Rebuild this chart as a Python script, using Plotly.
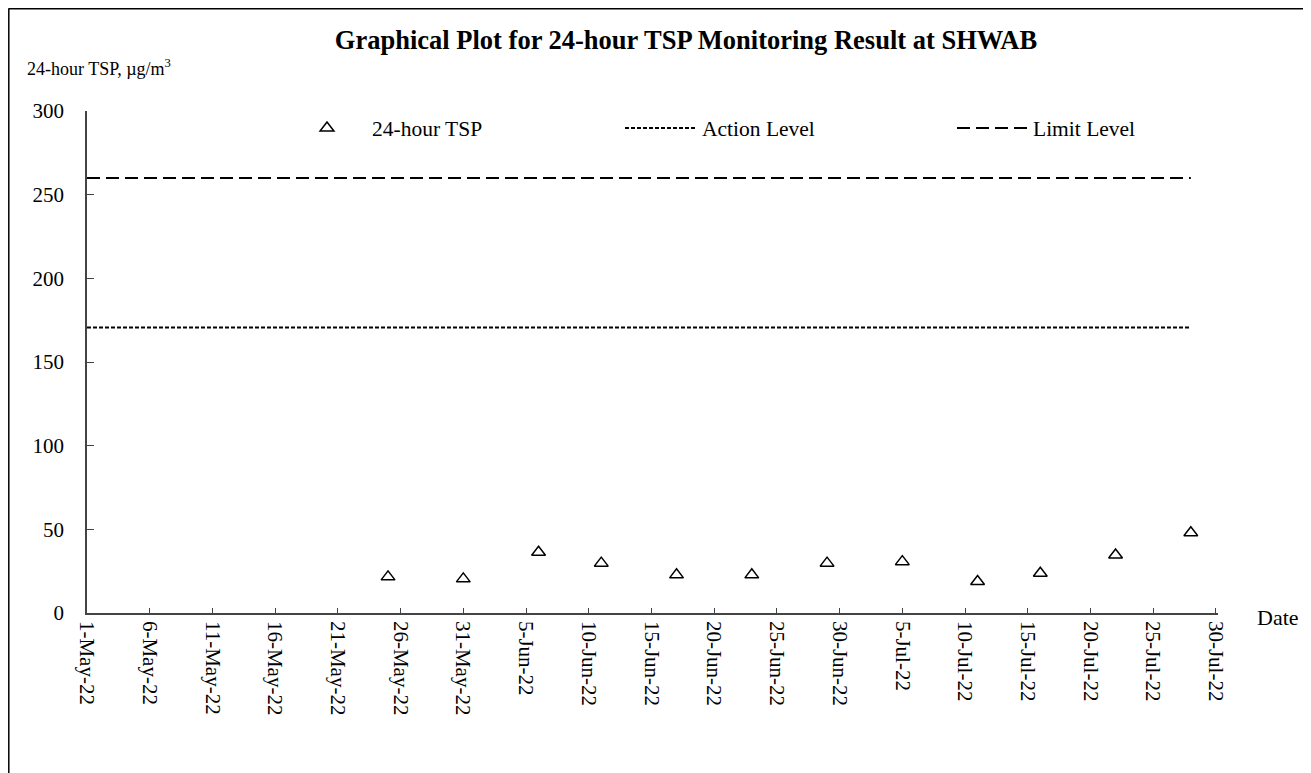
import plotly.graph_objects as go

# ---- data ----
dates = ["2022-05-25", "2022-05-31", "2022-06-06", "2022-06-11", "2022-06-17", "2022-06-23",
         "2022-06-29", "2022-07-05", "2022-07-11", "2022-07-16", "2022-07-22", "2022-07-28"]
tsp = [21.6, 20.4, 36.3, 29.8, 22.8, 22.8, 29.8, 30.7, 18.8, 23.8, 34.7, 48.0]
level_dates = ["2022-05-01", "2022-07-28"]
action_level = [170.6, 170.6]
limit_level = [260, 260]
y_ticks = [0, 50, 100, 150, 200, 250, 300]

FONT = "Liberation Serif"
OFF = 8  # page body margin
W, H = 1311 - OFF, 773 - OFF
# plot area in page pixels
L, R, T, B = 87, 1218, 111, 613
PW, PH = R - L, B - T


def px(x):
    return (x - L) / PW


def py(y):
    return (B - y) / PH


fig = go.Figure()
fig.add_trace(go.Scatter(
    x=dates, y=tsp, mode="markers", name="24-hour TSP", legend="legend",
    marker=dict(symbol="triangle-up-open", size=12, color="black", line=dict(width=1.5, color="black")),
))
fig.add_trace(go.Scatter(
    x=level_dates, y=action_level, mode="lines", name="Action Level", legend="legend2",
    line=dict(color="black", width=2, dash="4px,2px"),
))
fig.add_trace(go.Scatter(
    x=level_dates, y=limit_level, mode="lines", name="Limit Level", legend="legend3",
    line=dict(color="black", width=2, dash="13px,6px"),
))

legend_common = dict(orientation="h", bgcolor="rgba(0,0,0,0)", font=dict(family=FONT, size=21.5, color="black"),
                     xanchor="left", yanchor="middle", y=py(128))

fig.update_layout(
    width=W, height=H,
    margin=dict(l=L - OFF, r=W - (R - OFF), t=T - OFF, b=H - (B - OFF)),
    paper_bgcolor="white", plot_bgcolor="white",
    showlegend=True,
    font=dict(family=FONT, size=16, color="black"),
    title=dict(text="<b>Graphical Plot for 24-hour TSP Monitoring Result at SHWAB</b>",
               x=(686 - OFF) / W, xanchor="center", y=1 - (40 - OFF) / H, yanchor="middle",
               font=dict(family=FONT, size=26.5, color="black")),
    legend=dict(**legend_common, x=px(282), itemwidth=80),
    legend2=dict(**legend_common, x=px(620), itemwidth=72),
    legend3=dict(**legend_common, x=px(952), itemwidth=71),
    xaxis=dict(
        type="date", range=["2022-05-01", "2022-07-30 04:00"],
        tick0="2022-05-01", dtick=5 * 86400000, tickformat="%-d-%b-%y",
        tickangle=90, ticks="inside", ticklen=5, tickcolor="#444", tickwidth=1,
        showline=True, linecolor="#444", linewidth=1.5, showgrid=False, zeroline=False,
        tickfont=dict(family=FONT, size=21, color="black"), ticklabelstandoff=2,
    ),
    yaxis=dict(
        range=[0, 300], tickvals=y_ticks, ticks="inside", ticklen=7, tickcolor="#444", tickwidth=1,
        showline=True, linecolor="#444", linewidth=1.5, showgrid=False, zeroline=False,
        tickfont=dict(family=FONT, size=21, color="black"), ticklabelstandoff=17,
    ),
    annotations=[
        dict(text="24-hour TSP, µg/m<sup>3</sup>", xref="paper", yref="paper", x=px(25), y=py(67),
             xanchor="left", yanchor="middle", showarrow=False, font=dict(family=FONT, size=18, color="black")),
        dict(text="Date", xref="paper", yref="paper", x=px(1255), y=py(617),
             xanchor="left", yanchor="middle", showarrow=False, font=dict(family=FONT, size=22, color="black")),
    ],
    shapes=[
        dict(type="line", xref="paper", yref="paper", x0=px(8.5), x1=px(1305), y0=py(8.8), y1=py(8.8),
             line=dict(color="black", width=1.5)),
        dict(type="line", xref="paper", yref="paper", x0=px(8.8), x1=px(8.8), y0=py(8.5), y1=py(780),
             line=dict(color="black", width=1.5)),
        dict(type="line", xref="paper", yref="paper", x0=px(1305), x1=px(1305), y0=py(8.5), y1=py(780),
             line=dict(color="black", width=1.5)),
    ],
)

fig.write_html("out.html")
